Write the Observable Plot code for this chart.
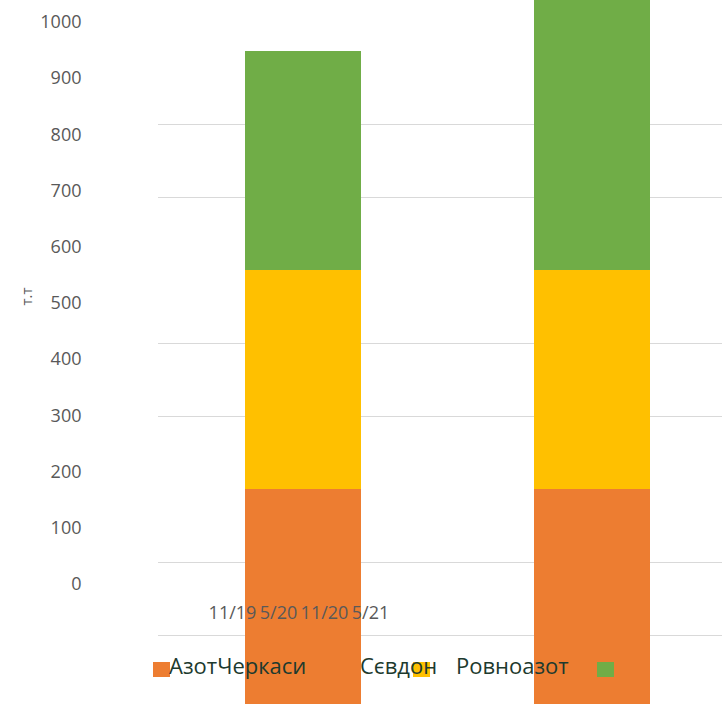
<!DOCTYPE html>
<html>
<head>
<meta charset="utf-8">
<script src="https://cdn.jsdelivr.net/npm/d3@7"></script>
<script src="https://cdn.jsdelivr.net/npm/@observablehq/plot@0.6"></script>
<style>
  html, body { margin: 0; padding: 0; background: #fff; }
  #wrap { position: relative; width: 722px; height: 704px; overflow: hidden; font-family: "Open Sans", sans-serif; }
  #wrap svg { position: absolute; left: 0; top: 0; }
  .lg { position: absolute; font-size: 22px; line-height: 22px; color: #1d3a2e; white-space: nowrap; }
  .sw { position: absolute; width: 17px; height: 15px; }
</style>
</head>
<body>
<div id="wrap"></div>
<script>
// ---- data ----
const companies = ["АзотЧеркаси", "Сєвдон", "Ровноазот"];
const colors = ["#ED7D31", "#FFC000", "#70AD47"];
const barDates = ["11/20", "5/21"];
const azotCherkasy = [300, 300];
const sevdon = [300, 300];
const rovnoazot = [300, 400];
const gridValues = [100, 200, 400, 500, 700, 800];
const axisDates = ["11/19", "5/20", "11/20", "5/21"];
const yTicks = [0, 100, 200, 300, 400, 500, 600, 700, 800, 900, 1000];
const yLabel = "т.т";

const series = [azotCherkasy, sevdon, rovnoazot];
const rows = [];
barDates.forEach((d, i) => {
  companies.forEach((c, j) => rows.push({date: d, company: c, value: series[j][i]}));
});

const wrap = document.getElementById("wrap");

// bars + gridlines
const bars = Plot.plot({
  width: 722, height: 704,
  marginLeft: 158, marginRight: 0, marginTop: 0, marginBottom: 0,
  style: {background: "transparent", overflow: "visible"},
  x: {type: "band", domain: barDates, range: [100.5, 794.1], paddingInner: 0.6, paddingOuter: 0.5, axis: null},
  y: {type: "linear", domain: [0, 100], range: [708, 635], axis: null},
  color: {domain: companies, range: colors},
  marks: [
    Plot.ruleY(gridValues, {stroke: "#d9d9d9", strokeWidth: 1}),
    Plot.barY(rows, {x: "date", y: "value", fill: "company", order: null})
  ]
});
wrap.appendChild(bars);

// axes overlay
const axes = Plot.plot({
  width: 722, height: 704,
  marginLeft: 84, marginRight: 0, marginTop: 0, marginBottom: 101,
  style: {background: "transparent", overflow: "visible", fontFamily: "Open Sans"},
  x: {type: "point", domain: axisDates, range: [231, 371], padding: 0},
  y: {type: "linear", domain: [0, 1000], range: [584, 22]},
  marks: [
    Plot.axisY(yTicks, {tickSize: 0, tickPadding: 3, fontSize: 18, fill: "#595959", tickFormat: d => String(d), label: null}),
    Plot.text([yLabel], {text: d => d, frameAnchor: "left", dx: -57, dy: 3.5, rotate: -90, fontSize: 15, fill: "#595959"}),
    Plot.axisX({tickSize: 0, tickPadding: 3, fontSize: 18, fill: "#595959", label: null})
  ]
});
wrap.appendChild(axes);

// legend overlay
const lgX = [169, 360, 456];
const swX = [153, 413, 597];
companies.forEach((c, i) => {
  const sw = document.createElement("div");
  sw.className = "sw";
  sw.style.left = swX[i] + "px";
  sw.style.top = "662px";
  sw.style.background = colors[i];
  wrap.appendChild(sw);
});
companies.forEach((c, i) => {
  const t = document.createElement("span");
  t.className = "lg";
  t.textContent = c;
  t.style.left = lgX[i] + "px";
  t.style.top = "653.5px";
  wrap.appendChild(t);
});
</script>
</body>
</html>
